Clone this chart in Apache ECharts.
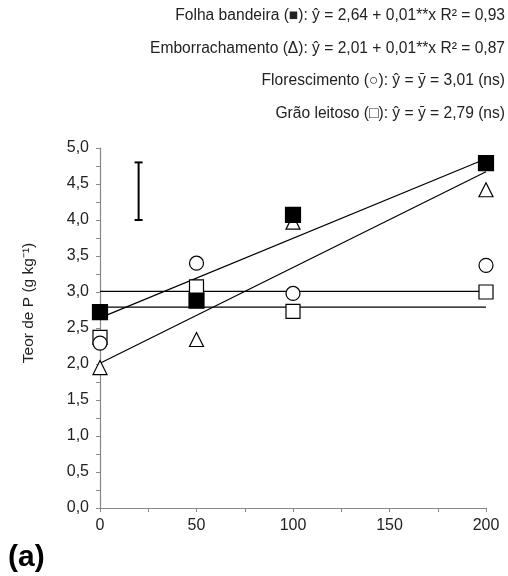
<!DOCTYPE html>
<html><head><meta charset="utf-8">
<script src="https://cdn.jsdelivr.net/npm/echarts@6/dist/echarts.min.js"></script>
<style>html,body{margin:0;padding:0;background:#fff}#c{width:508px;height:576px}</style>
</head><body><div id="c"></div>
<script>
const doses = [0, 50, 100, 200];
const folhaBandeira = [2.72, 2.88, 4.07, 4.79];
const emborrachamento = [1.95, 2.34, 3.97, 4.42];
const florescimento = [2.29, 3.40, 2.98, 3.37];
const graoLeitoso = [2.37, 3.07, 2.73, 3.00];
const fitFolha = [[0, 2.64], [200, 4.85]];
const fitEmbo = [[0, 2.01], [200, 4.67]];
const fitFlor = [[0, 3.01], [200, 3.01]];
const fitGrao = [[0, 2.79], [200, 2.79]];
const errorBar = [20, 4.0, 4.8];
const legendLines = [
  'Folha bandeira (■): ŷ = 2,64 + 0,01**x R² = 0,93',
  'Emborrachamento (Δ): ŷ = 2,01 + 0,01**x R² = 0,87',
  'Florescimento (○): ŷ = ȳ = 3,01 (ns)',
  'Grão leitoso (□): ŷ = ȳ = 2,79 (ns)'
];
const panelLabel = '(a)';
const yTitle = 'Teor de P (g kg⁻¹)';

const pts = arr => doses.map((d, i) => [d, arr[i]]);
const font = 'Liberation Sans, Arial, sans-serif';
const chart = echarts.init(document.getElementById('c'), null, {renderer: 'canvas'});
const fitLine = (d) => ({type: 'line', data: d, symbol: 'none', lineStyle: {color: '#000', width: 1.2}, z: 2, silent: true});
const mk = (d, symbol, fill, size) => ({type: 'scatter', data: pts(d), symbol, symbolSize: size,
  itemStyle: {color: fill, borderColor: '#000', borderWidth: 1.2, opacity: 1}, z: 3});
chart.setOption({
  animation: false,
  grid: {left: 100, right: 22, top: 148, bottom: 68},
  xAxis: {type: 'value', min: 0, max: 200, interval: 50,
    axisLine: {lineStyle: {color: '#888', width: 1.2}},
    axisTick: {show: true, length: 4, lineStyle: {color: '#888'}},
    minorTick: {show: true, splitNumber: 2, length: 4, lineStyle: {color: '#888'}},
    splitLine: {show: false},
    axisLabel: {color: '#222', fontSize: 16, fontFamily: font, margin: 10}},
  yAxis: {type: 'value', min: 0, max: 5, interval: 0.5,
    axisLine: {show: true, lineStyle: {color: '#888', width: 1.2}},
    axisTick: {show: true, length: 4, lineStyle: {color: '#888'}},
    minorTick: {show: true, splitNumber: 2, length: 4, lineStyle: {color: '#888'}},
    splitLine: {show: false},
    axisLabel: {color: '#222', fontSize: 16, fontFamily: font, margin: 11,
      formatter: v => v.toFixed(1).replace('.', ',')}},
  series: [
    fitLine(fitFolha), fitLine(fitEmbo), fitLine(fitFlor), fitLine(fitGrao),
    {type: 'custom', data: [errorBar], z: 2, renderItem: (params, api) => {
      const a = api.coord([api.value(0), api.value(1)]);
      const b = api.coord([api.value(0), api.value(2)]);
      const st = {stroke: '#000', lineWidth: 2};
      return {type: 'group', children: [
        {type: 'line', shape: {x1: a[0], y1: a[1], x2: b[0], y2: b[1]}, style: st},
        {type: 'line', shape: {x1: a[0]-4, y1: a[1], x2: a[0]+4, y2: a[1]}, style: st},
        {type: 'line', shape: {x1: b[0]-4, y1: b[1], x2: b[0]+4, y2: b[1]}, style: st}
      ]};
    }},
    mk(graoLeitoso, 'rect', '#fff', 14),
    mk(florescimento, 'circle', '#fff', 14),
    mk(emborrachamento, 'triangle', '#fff', 14),
    mk(folhaBandeira, 'rect', '#000', 15)
  ],
  graphic: legendLines.map((t, i) => ({type: 'text', x: 505, y: 16 + i * 32.5,
    style: {text: t, font: '15.6px ' + font, fill: '#222', align: 'right', verticalAlign: 'middle'}})).concat([
    {type: 'text', x: 29, y: 303, rotation: Math.PI / 2,
      style: {text: yTitle, font: '15.5px ' + font, fill: '#222', align: 'center', verticalAlign: 'middle'}},
    {type: 'text', x: 8, y: 558, style: {text: panelLabel, font: 'bold 30px ' + font, fill: '#000', verticalAlign: 'middle'}}
  ])
});
</script></body></html>
